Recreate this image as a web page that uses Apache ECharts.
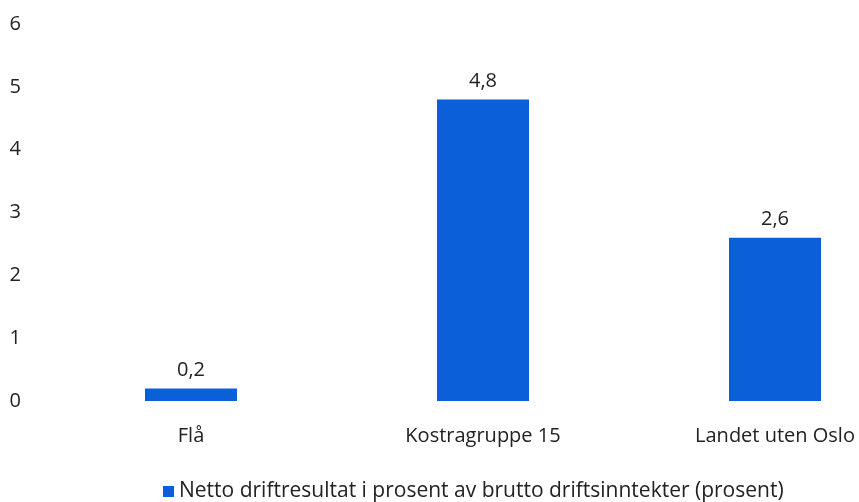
<!DOCTYPE html>
<html>
<head>
<meta charset="utf-8">
<script src="https://cdn.jsdelivr.net/npm/echarts@6/dist/echarts.min.js"></script>
<style>
  html, body { margin: 0; padding: 0; background: #fff; overflow: hidden; }
  /* plot runs past the right edge in the reference, so the canvas is wider than the window */
  #chart { width: 925px; height: 502px; }
</style>
</head>
<body>
<div id="chart"></div>
<script>
// data
const categories = ["Flå", "Kostragruppe 15", "Landet uten Oslo"];
const values = [0.2, 4.8, 2.6];
const seriesName = "Netto driftresultat i prosent av brutto driftsinntekter (prosent)";

const chart = echarts.init(document.getElementById("chart"));
chart.setOption({
  animation: false,
  textStyle: { fontFamily: "Open Sans" },
  grid: { left: 45, top: 24, width: 876, height: 377 },
  legend: {
    data: [seriesName],
    left: 158,
    top: 476,
    icon: "rect",
    itemWidth: 11,
    itemHeight: 11,
    itemGap: 4,
    textStyle: { fontSize: 21, color: "#222" },
  },
  xAxis: {
    type: "category",
    data: categories,
    axisLine: { show: false },
    axisTick: { show: false },
    axisLabel: { fontSize: 20, color: "#222", margin: 25 },
  },
  yAxis: {
    type: "value",
    min: 0,
    max: 6,
    interval: 1,
    splitLine: { show: false },
    axisLabel: { fontSize: 20, color: "#222", margin: 24 },
  },
  series: [
    {
      name: seriesName,
      type: "bar",
      data: values,
      barWidth: 92,
      itemStyle: { color: "#0b5fd8" },
      label: {
        show: true,
        position: "top",
        distance: 8,
        fontSize: 20,
        color: "#222",
        formatter: (p) => String(p.value).replace(".", ","),
      },
    },
  ],
});
</script>
</body>
</html>
